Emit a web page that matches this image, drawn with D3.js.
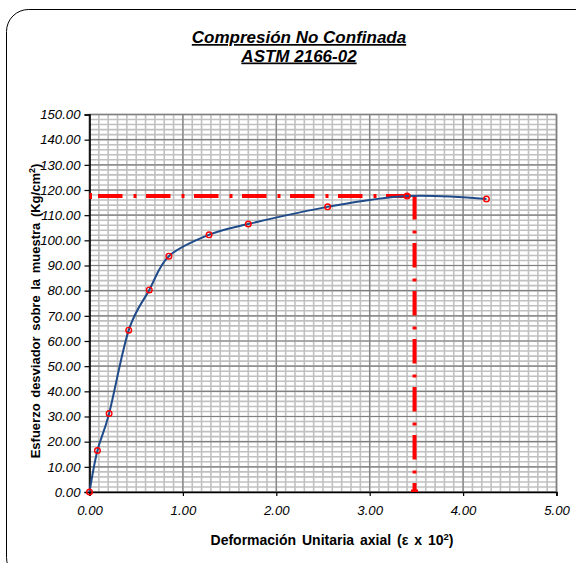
<!DOCTYPE html>
<html>
<head>
<meta charset="utf-8">
<script src="https://cdn.jsdelivr.net/npm/d3@7"></script>
<style>
  html, body { margin: 0; padding: 0; background: #fff; }
  svg { display: block; font-family: "Liberation Sans", Arial, sans-serif; }
</style>
</head>
<body>
<svg id="chart" width="576" height="563"></svg>
<script>
// Unconfined compression test: axial strain (ε x 10²) vs deviator stress (Kg/cm²)
const strain = [0, 0.085, 0.21, 0.42, 0.64, 0.85, 1.28, 1.70, 2.55, 3.40, 4.25];
const stress = [0, 16.5, 31.2, 64.3, 80.3, 93.7, 102.2, 106.5, 113.3, 117.6, 116.4];

// Peak (qu) reference lines
const peakStress = 117.6;
const peakStrain = 3.48;

const xTicks = [0, 1, 2, 3, 4, 5];
const yTicks = [0, 10, 20, 30, 40, 50, 60, 70, 80, 90, 100, 110, 120, 130, 140, 150];

const titleLines = ["Compresión No Confinada", "ASTM 2166-02"];

const FONT = '"Liberation Sans", Arial, sans-serif';
const svg = d3.select("#chart");

// outer frame with rounded corners
svg.append("rect")
  .attr("x", 6.5).attr("y", 9.5)
  .attr("width", 600).attr("height", 570)
  .attr("rx", 22).attr("ry", 22)
  .attr("fill", "#fff").attr("stroke", "#000").attr("stroke-width", 1);

const x = d3.scaleLinear().domain([0, 5]).range([89.5, 556.5]);
const y = d3.scaleLinear().domain([0, 150]).range([492, 114.5]);

const grid = svg.append("g");

// minor grid: 0.1 strain, 2 Kg/cm²
const minorX = d3.range(0, 5.0001, 0.1);
const minorY = d3.range(0, 150.0001, 2);
grid.selectAll("line.mx").data(minorX).join("line")
  .attr("x1", d => x(d)).attr("x2", d => x(d))
  .attr("y1", y(0)).attr("y2", y(150))
  .attr("stroke", "#c0c0c0").attr("stroke-width", 1.6);
grid.selectAll("line.my").data(minorY).join("line")
  .attr("x1", x(0)).attr("x2", x(5))
  .attr("y1", d => y(d)).attr("y2", d => y(d))
  .attr("stroke", "#c0c0c0").attr("stroke-width", 1.6);

// major grid
grid.selectAll("line.Mx").data(xTicks).join("line")
  .attr("x1", d => x(d)).attr("x2", d => x(d))
  .attr("y1", y(0)).attr("y2", y(150))
  .attr("stroke", "#808080").attr("stroke-width", 1.2);
grid.selectAll("line.My").data(yTicks).join("line")
  .attr("x1", x(0)).attr("x2", x(5))
  .attr("y1", d => y(d)).attr("y2", d => y(d))
  .attr("stroke", "#808080").attr("stroke-width", 1.2);

// plot border
svg.append("rect")
  .attr("x", x(0)).attr("y", y(150))
  .attr("width", x(5) - x(0)).attr("height", y(0) - y(150))
  .attr("fill", "none").attr("stroke", "#808080").attr("stroke-width", 1.5);

// axes
const fmt = d3.format(".2f");
const yAxis = svg.append("g")
  .attr("transform", `translate(${x(0)},0)`)
  .call(d3.axisLeft(y).tickValues(yTicks).tickFormat(fmt).tickSize(5).tickPadding(4));
const xAxis = svg.append("g")
  .attr("transform", `translate(0,${y(0)})`)
  .call(d3.axisBottom(x).tickValues(xTicks).tickFormat(fmt).tickSize(4).tickPadding(7));

[yAxis, xAxis].forEach(g => {
  g.attr("font-family", FONT).attr("font-size", 13.2);
  g.select(".domain").attr("stroke", "#000").attr("stroke-width", 1.6);
  g.selectAll(".tick line").attr("stroke", "#000").attr("stroke-width", 1.2);
  g.selectAll(".tick text")
    .attr("fill", "#000")
    .attr("font-size", 13.2)
    .attr("font-style", "italic");
});
xAxis.selectAll(".tick text").attr("dy", "0.9em");

// peak dash-dot reference lines
const dash = "24.5,11,3,9.5";
svg.append("line")
  .attr("x1", x(0)).attr("x2", x(peakStrain))
  .attr("y1", y(peakStress)).attr("y2", y(peakStress))
  .attr("stroke", "#ff0000").attr("stroke-width", 4)
  .attr("stroke-dasharray", dash).attr("stroke-dashoffset", 39.5);
svg.append("line")
  .attr("x1", x(peakStrain)).attr("x2", x(peakStrain))
  .attr("y1", y(peakStress) - 1).attr("y2", y(0))
  .attr("stroke", "#ff0000").attr("stroke-width", 4)
  .attr("stroke-dasharray", dash);
// end markers of the reference lines
svg.append("rect")
  .attr("x", x(0)).attr("y", y(peakStress) - 3)
  .attr("width", 2.5).attr("height", 6).attr("fill", "#ff0000");
svg.append("rect")
  .attr("x", x(peakStrain) - 3.5).attr("y", y(0) - 2.5)
  .attr("width", 7).attr("height", 2.5).attr("fill", "#ff0000");

// stress-strain curve
const pts = strain.map((s, i) => [s, stress[i]]);
svg.append("path")
  .datum(pts)
  .attr("d", d3.line().x(d => x(d[0])).y(d => y(d[1])).curve(d3.curveCardinal.tension(0)))
  .attr("fill", "none")
  .attr("stroke", "#1f4b8a")
  .attr("stroke-width", 2);

// measured points
svg.selectAll("circle.pt").data(pts).join("circle")
  .attr("cx", d => x(d[0])).attr("cy", d => y(d[1]))
  .attr("r", 2.8)
  .attr("fill", "none")
  .attr("stroke", "#ff0000")
  .attr("stroke-width", 1.4);

// title (bold italic, underlined)
titleLines.forEach((t, i) => {
  svg.append("text")
    .attr("x", 299).attr("y", 43 + i * 18.5)
    .attr("text-anchor", "middle")
    .attr("font-family", FONT)
    .attr("font-size", 17)
    .attr("font-weight", "bold")
    .attr("font-style", "italic")
    .attr("text-decoration", "underline")
    .text(t);
});

// x axis title
const xt = svg.append("text")
  .attr("x", 332).attr("y", 545)
  .attr("text-anchor", "middle")
  .attr("font-family", FONT)
  .attr("font-size", 14)
  .attr("font-weight", "bold")
  .attr("word-spacing", 2);
xt.append("tspan").text("Deformación Unitaria axial (ε x 10");
xt.append("tspan").attr("dy", -5).attr("font-size", 9.5).text("2");
xt.append("tspan").attr("dy", 5).text(")");

// y axis title, rotated and centred on the plot height
const yt = svg.append("text")
  .attr("transform", "translate(40,0) rotate(-90)")
  .attr("text-anchor", "start")
  .attr("font-family", FONT)
  .attr("font-size", 13)
  .attr("font-weight", "bold")
  .attr("word-spacing", 2);
yt.append("tspan").text("Esfuerzo desviador sobre la muestra (Kg/cm");
yt.append("tspan").attr("dy", -5).attr("font-size", 9).text("2");
yt.append("tspan").attr("dy", 5).text(")");
const ytLen = yt.node().getComputedTextLength();
yt.attr("x", -(311 + ytLen / 2));
</script>
</body>
</html>
